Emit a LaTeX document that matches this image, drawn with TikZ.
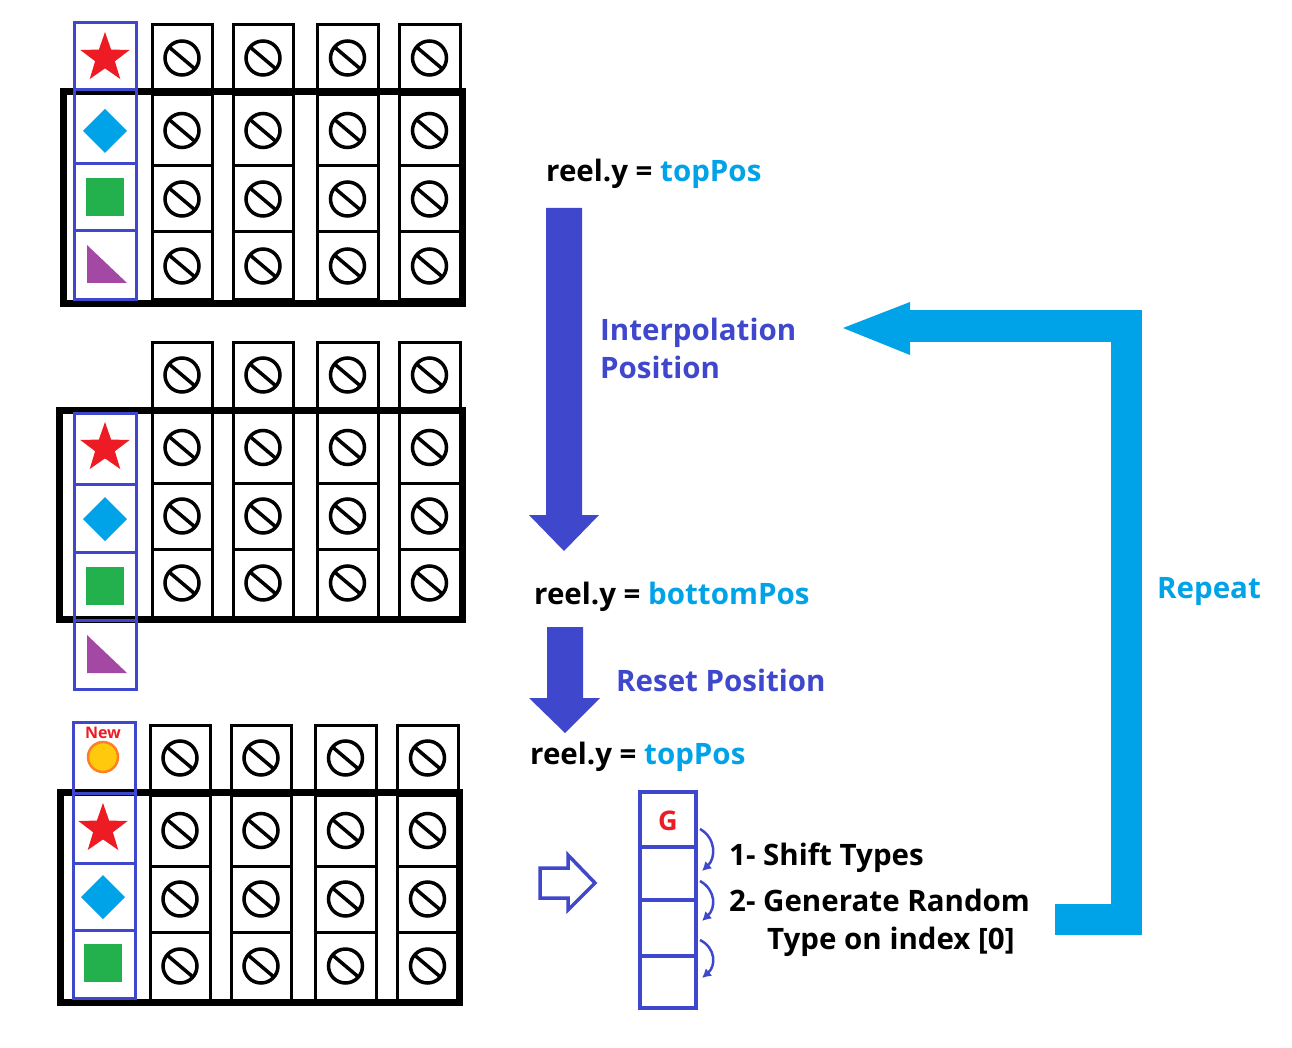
\documentclass[tikz,border=0pt]{standalone}
\usepackage{fontspec}
\setmainfont{Open Sans}
\usetikzlibrary{shapes.geometric,arrows.meta}
\definecolor{dblue}{RGB}{63,72,204}
\definecolor{lblue}{RGB}{0,162,232}
\definecolor{sred}{RGB}{237,28,36}
\definecolor{sgreen}{RGB}{34,177,76}
\definecolor{spurple}{RGB}{163,73,164}
\definecolor{syellow}{RGB}{255,201,14}
\definecolor{sorange}{RGB}{255,127,39}
\newcommand\shStar[2]{\node[star,star points=5,star point ratio=2.5,minimum size=52pt,inner sep=0,fill=sred] at (#1,#2) {};}
\newcommand\shDiam[2]{\fill[lblue] (#1-22,#2) -- (#1,#2-22) -- (#1+22,#2) -- (#1,#2+22) -- cycle;}
\newcommand\shSq[2]{\fill[sgreen] (#1-19,#2-19) rectangle (#1+19,#2+19);}
\newcommand\shTri[2]{\fill[spurple] (#1-18,#2-20) -- (#1-18,#2+18) -- (#1+22,#2+18) -- cycle;}
\newcommand\grid[1]{%
  \foreach \xa/\xb in {152/212,233/293,317/378,399/460}{
    \foreach \ya/\yb in {25/91,95/166,166/232,232/300}{
      \draw[line width=3pt] (\xa,\ya+#1) rectangle (\xb,\yb+#1);
      \draw[line width=3.5pt] ({(\xa+\xb)/2},{(\ya+\yb)/2+#1}) circle (17);
      \draw[line width=3.5pt] ({(\xa+\xb)/2-13},{(\ya+\yb)/2+#1-11}) -- ({(\xa+\xb)/2+13},{(\ya+\yb)/2+#1+11});
    }}}
\tikzset{bluecell/.style={draw=dblue,line width=3pt},
  frame/.style={line width=7pt},
  txt/.style={font=\fontsize{29.5}{38}\selectfont\bfseries,anchor=west,inner sep=0},
  small/.style={dblue,line width=2.5pt,-{Latex[length=9pt,width=10pt]}}}
\begin{document}
\begin{tikzpicture}[x=1pt,y=-1pt]
\useasboundingbox (0,0) rectangle (1292,1048);
\fill[white] (0,0) rectangle (1292,1048);
% panel 1
\grid{0}
\draw[frame] (63,92) rectangle (462,304);
\foreach \a/\b in {23/90,90/164,164/231,231/300}{\draw[bluecell] (74,\a) rectangle (136,\b);}
\shStar{105}{58}\shDiam{105}{131}\shSq{105}{197}\shTri{105}{265}
% panel 2
\grid{317}
\draw[frame] (59,410) rectangle (462,619);
\foreach \a/\b in {413/484,484/552,552/620,620/689}{\draw[bluecell] (74,\a) rectangle (136,\b);}
\shStar{105}{448}\shDiam{105}{519}\shSq{105}{586}\shTri{105}{655}
% panel 3
\begin{scope}[xshift=-2pt]\grid{700}\end{scope}
\draw[frame] (60,792) rectangle (459,1002);
\foreach \a/\b in {722/793,793/863,863/930,930/998}{\draw[bluecell] (73,\a) rectangle (135,\b);}
\node[font=\fontsize{16}{18}\selectfont\bfseries,text=sred,inner sep=0] (new) at (103,733) {New};
\draw[sorange,fill=syellow,line width=2.5pt] (103,757) circle (15);
\shStar{103}{829}\shDiam{103}{897}\shSq{103}{963}
% arrows
\fill[dblue] (546,208) -- (582,208) -- (582,515) -- (599,515) -- (564,551) -- (529,515) -- (546,515) -- cycle;
\fill[dblue] (547,627) -- (583,627) -- (583,698) -- (600,698) -- (565,733) -- (529,698) -- (547,698) -- cycle;
\draw[lblue,line width=31pt] (1055,919) -- (1126,919) -- (1126,326) -- (905,326);
\fill[lblue] (910,302) -- (843,328) -- (910,355) -- cycle;
% texts
\node[txt] (t1) at (546,174) {reel.y = \textcolor{lblue}{topPos}};
\node[txt,text=dblue,align=left,anchor=north west] (t2) at (600,318) {Interpolation\\Position};
\node[txt] (t3) at (534,597) {reel.y = \textcolor{lblue}{bottomPos}};
\node[txt,text=dblue] (t4) at (616,680) {Reset Position};
\node[txt] (t5) at (530,757) {reel.y = \textcolor{lblue}{topPos}};
\node[txt,text=lblue] (t6) at (1157,592) {Repeat};
\node[txt] (s1) at (729,858) {1- Shift Types};
\node[txt] (s2) at (729,900) {2- Generate Random};
\node[txt] (s3) at (767,942) {Type on index [0]};
% G column
\foreach \a/\b in {792/847,847/900,900/956,956/1008}{\draw[bluecell,line width=4pt] (640,\a) rectangle (696,\b);}
\node[font=\fontsize{27}{30}\selectfont\bfseries,text=sred,inner sep=0] (g) at (668,821) {G};
\draw[small] (700,829) .. controls (716,838) and (716,858) .. (702,871);
\draw[small] (700,881) .. controls (716,890) and (716,908) .. (702,921);
\draw[small] (700,940) .. controls (716,948) and (716,966) .. (702,978);
% hollow arrow
\draw[dblue,line width=3.5pt,line join=miter] (540,868) -- (568,868) -- (568,855) -- (595,883) -- (568,910) -- (568,898) -- (540,898) -- cycle;
\end{tikzpicture}
\end{document}
